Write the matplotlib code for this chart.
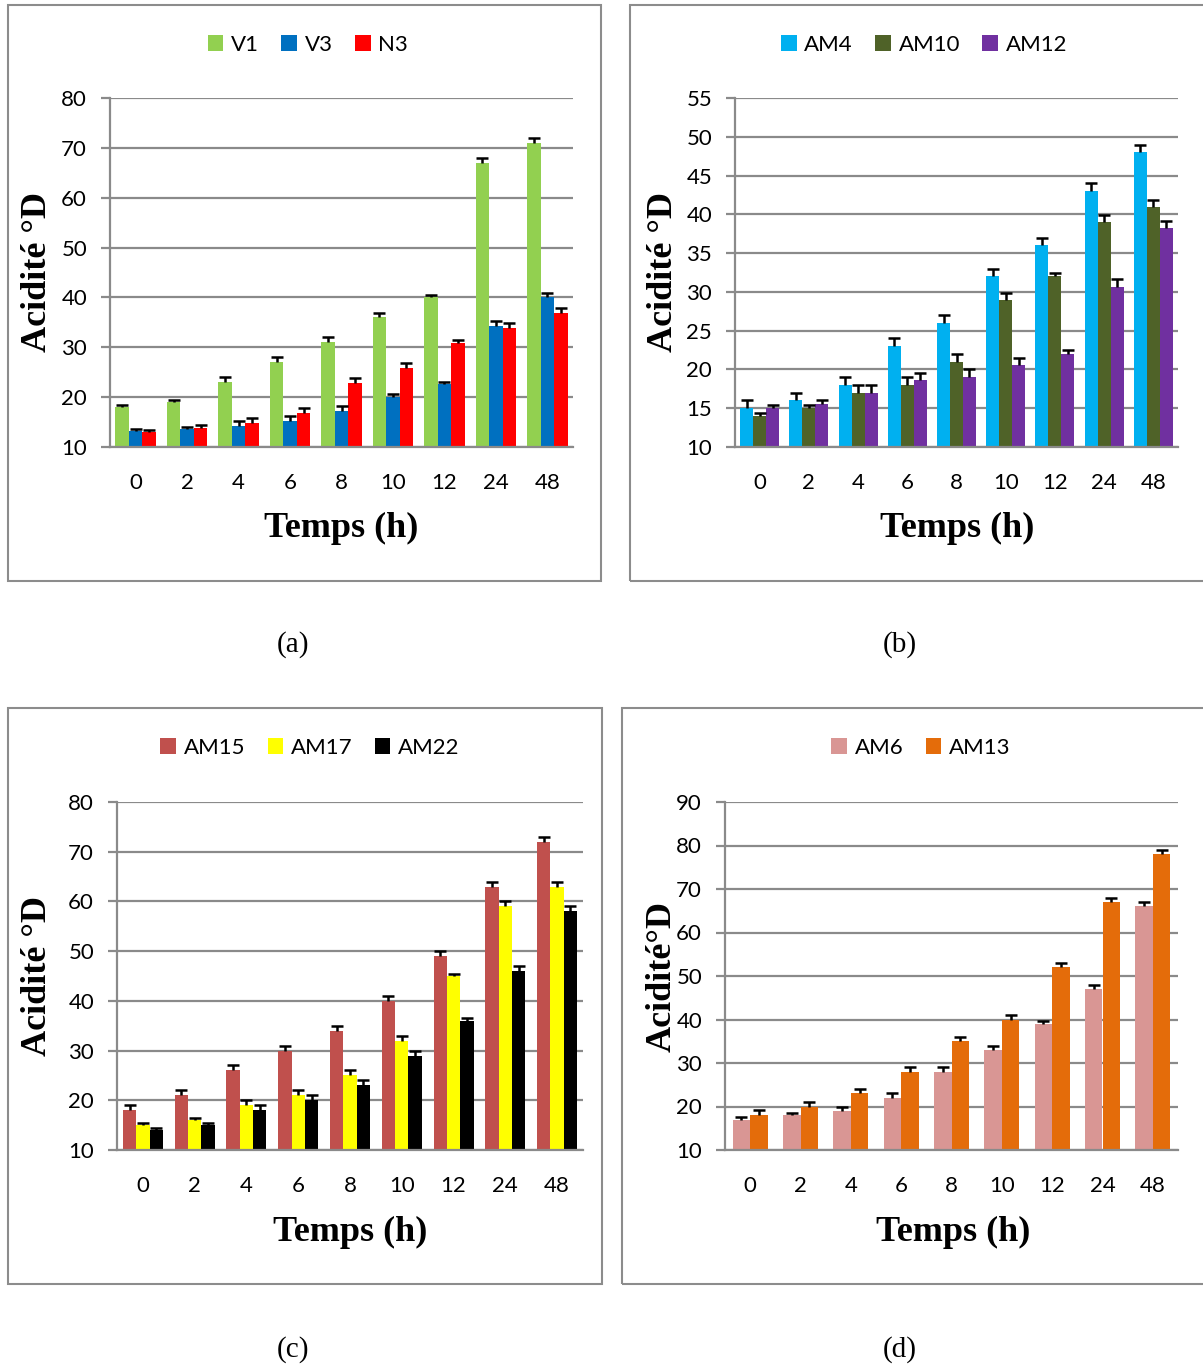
import numpy as np
import matplotlib

matplotlib.use('Agg')
import matplotlib.pyplot as plt
from matplotlib.patches import Rectangle

W, H = 1203, 1367

times = ["0", "2", "4", "6", "8", "10", "12", "24", "48"]

# (a)
v1 = [18, 19, 23, 27, 31, 36, 40, 67, 71]
v1_err = [0.5, 0.5, 1, 1, 1, 0.9, 0.5, 0.9, 0.9]
v3 = [13.2, 13.6, 14.2, 15.2, 17.2, 20, 22.7, 34.2, 40]
v3_err = [0.5, 0.5, 1, 1, 1, 0.7, 0.4, 1, 0.8]
n3 = [13, 13.9, 14.9, 16.9, 22.9, 25.9, 30.9, 33.9, 36.9]
n3_err = [0.4, 0.5, 1, 1, 1, 0.9, 0.5, 1, 0.9]

# (b)
am4 = [15, 16, 18, 23, 26, 32, 36, 43, 48]
am4_err = [1, 1, 1, 1, 1, 1, 1, 1, 1]
am10 = [14, 15, 17, 18, 21, 29, 32, 39, 41]
am10_err = [0.4, 0.4, 1, 1, 1, 0.9, 0.5, 0.9, 0.9]
am12 = [15, 15.6, 17, 18.6, 19, 20.6, 22, 30.6, 38.3]
am12_err = [0.4, 0.4, 1, 1, 1, 0.9, 0.5, 1, 0.9]

# (c)
am15 = [18, 21, 26, 30, 34, 40, 49, 63, 72]
am15_err = [1.1, 1, 1, 1, 1, 1, 1, 1, 1]
am17 = [15, 16, 19, 21, 25, 32, 45, 59, 63]
am17_err = [0.5, 0.5, 1, 1, 1, 0.9, 0.5, 1, 0.9]
am22 = [14, 15, 18, 20, 23, 29, 36, 46, 58]
am22_err = [0.5, 0.5, 1, 1, 1, 0.9, 0.5, 1, 1]

# (d)
am6 = [17, 18, 19, 22, 28, 33, 39, 47, 66]
am6_err = [0.5, 0.6, 1, 1, 1, 0.9, 0.6, 1, 0.9]
am13 = [18, 20, 23, 28, 35, 40, 52, 67, 78]
am13_err = [1.1, 1.1, 1.1, 1, 1, 1, 1, 1, 1]

SANS = ['Lato', 'DejaVu Sans']
SERIF = ['Liberation Serif', 'DejaVu Serif']
GRID = '#8a8a8a'


def fx(px):
    return px / W


def fy(py):
    return 1 - py / H


def panel(fig, box, axbox, series, yticks, ylabel, ylab_xy, xlab_xy, leg_xy, caption_xy, caption, width):
    # panel border
    bx0, by0, bx1, by1 = box
    fig.patches.append(Rectangle((fx(bx0), fy(by1)), fx(bx1 - bx0), (by1 - by0) / H,
                                 transform=fig.transFigure, fill=False,
                                 edgecolor='#8c8c8c', linewidth=1.5))
    l, t, r, b = axbox
    ax = fig.add_axes([fx(l), fy(b), fx(r - l), (b - t) / H])

    x = np.arange(len(times))
    n = len(series)
    for i, (name, vals, err, color) in enumerate(series):
        pos = x + (i - (n - 1) / 2) * width
        vals = np.array(vals)
        err = np.array(err)
        ax.bar(pos, vals, width, color=color, label=name, zorder=2)
        # upper error bar only, cap on top
        ax.vlines(pos, vals, vals + err, color='black', linewidth=1.8, zorder=3)
        ax.plot(pos, vals + err, linestyle='none', marker='_', markersize=8,
                markeredgewidth=1.8, color='black', zorder=3)

    ax.set_xlim(-0.5, len(times) - 0.5)
    ax.set_ylim(yticks[0], yticks[-1])
    ax.set_yticks(yticks)
    ax.set_xticks(x)
    ax.set_xticklabels(times)
    ax.yaxis.grid(True, color=GRID, linewidth=1.6, zorder=0)
    ax.set_axisbelow(True)
    for s in ['top', 'right']:
        ax.spines[s].set_visible(False)
    for s in ['left', 'bottom']:
        ax.spines[s].set_color(GRID)
        ax.spines[s].set_linewidth(1.6)
    ax.tick_params(axis='y', length=6.5, width=1.6, color=GRID, pad=10, labelsize=16)
    ax.tick_params(axis='x', length=0, pad=19, labelsize=16)
    for lab in ax.get_xticklabels() + ax.get_yticklabels():
        lab.set_family(SANS)

    fig.text(fx(ylab_xy[0]), fy(ylab_xy[1]), ylabel, rotation=90, ha='center', va='center',
             family=SERIF, fontweight='bold', fontsize=26)
    fig.text(fx(xlab_xy[0]), fy(xlab_xy[1]), "Temps (h)", ha='center', va='center',
             family=SERIF, fontweight='bold', fontsize=26)
    fig.text(fx(caption_xy[0]), fy(caption_xy[1]), caption, ha='center', va='center',
             family=SERIF, fontsize=21)

    ax.legend(loc='center', bbox_to_anchor=(fx(leg_xy[0]), fy(leg_xy[1])),
              bbox_transform=fig.transFigure, ncol=n, frameon=False,
              prop={'family': SANS, 'size': 16}, handlelength=0.7, handleheight=0.7,
              handletextpad=0.35, columnspacing=1.0)
    return ax


fig = plt.figure(figsize=(W / 100, H / 100), dpi=100)

panel(fig, (8, 5, 601, 581), (110, 98, 573, 447),
      [("V1", v1, v1_err, '#92d050'), ("V3", v3, v3_err, '#0070c0'), ("N3", n3, n3_err, '#ff0000')],
      list(range(10, 81, 10)), "Acidité °D", (38, 272), (341, 528), (308, 45), (293, 645), "(a)", 0.263)

panel(fig, (630, 5, 1210, 581), (735, 98, 1178, 447),
      [("AM4", am4, am4_err, '#00b0f0'), ("AM10", am10, am10_err, '#4f6228'), ("AM12", am12, am12_err, '#7030a0')],
      list(range(10, 56, 5)), "Acidité °D", (663, 272), (957, 528), (924, 45), (900, 645), "(b)", 0.264)

panel(fig, (8, 708, 602, 1284), (117, 802, 583, 1150),
      [("AM15", am15, am15_err, '#c0504d'), ("AM17", am17, am17_err, '#ffff00'), ("AM22", am22, am22_err, '#000000')],
      list(range(10, 81, 10)), "Acidité °D", (38, 976), (350, 1232), (310, 748), (293, 1350), "(c)", 0.257)

panel(fig, (622, 708, 1210, 1284), (725, 802, 1178, 1150),
      [("AM6", am6, am6_err, '#d99694'), ("AM13", am13, am13_err, '#e46c0a')],
      list(range(10, 91, 10)), "Acidité°D", (662, 976), (953, 1232), (921, 748), (900, 1350), "(d)", 0.35)

fig.savefig("out.png", dpi=100)
